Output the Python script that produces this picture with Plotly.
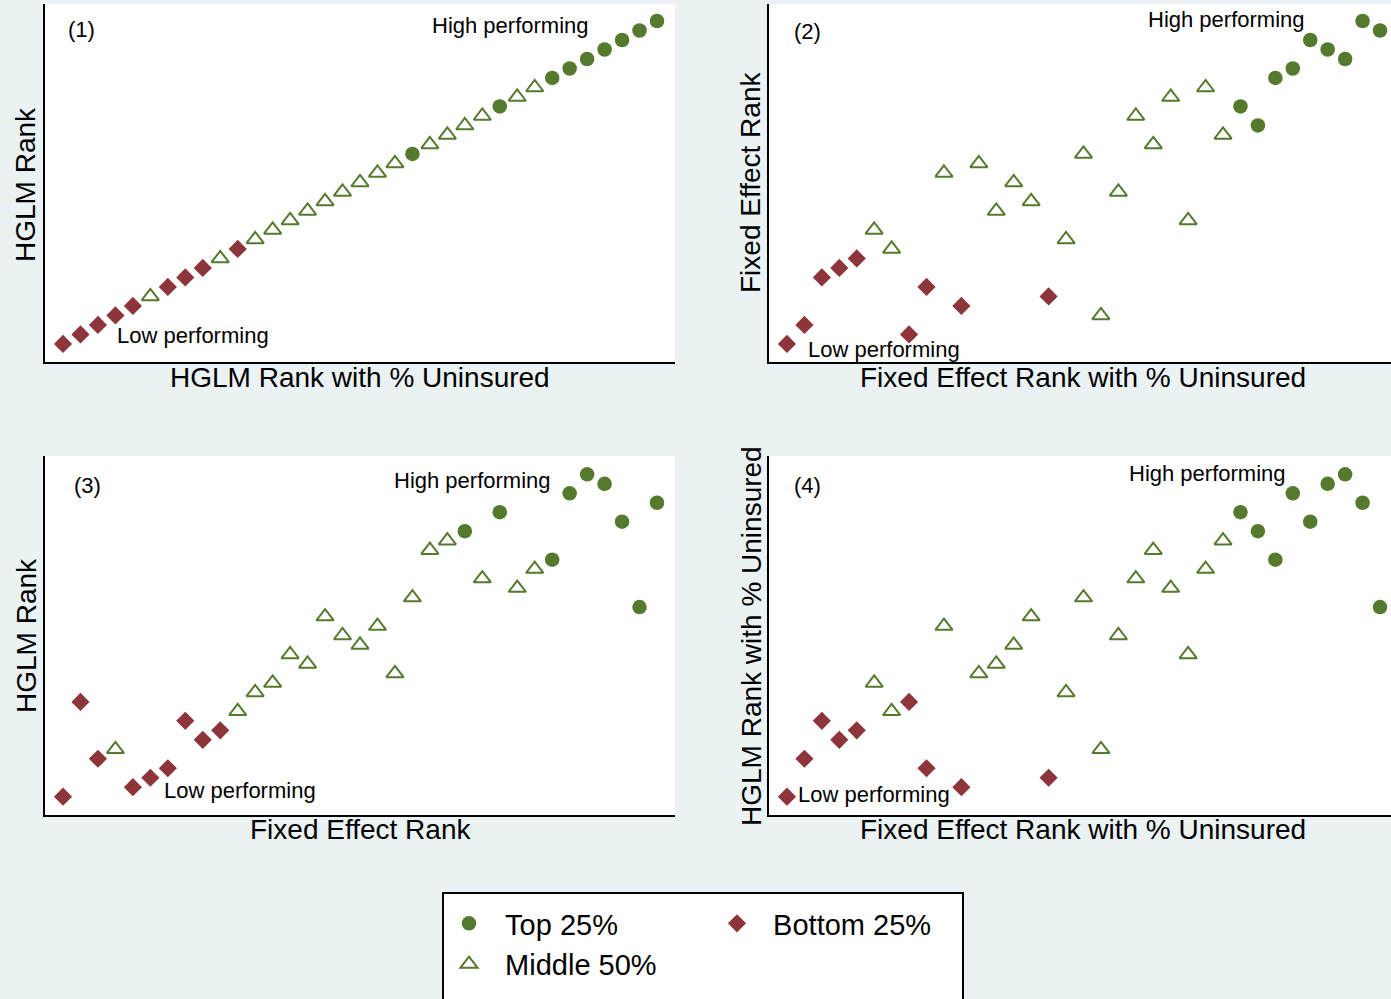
import plotly.graph_objects as go

W, H = 1391, 999

# ---------------- data ----------------
ranks = list(range(1, 36))  # x-axis rank positions (1..35)

# (1) x: HGLM Rank with % Uninsured, y: HGLM Rank
p1_y = [1, 2, 3, 4, 5, 6, 7, 8, 9, 10, 11, 12, 13, 14, 15, 16, 17, 18,
        19, 20, 21, 22, 23, 24, 25, 26, 27, 28, 29, 30, 31, 32, 33, 34, 35]
p1_grp = "BBBBBMBBBMBMMMMMMMMMTMMMMTMMTTTTTTT"

# (2) x: Fixed Effect Rank with % Uninsured, y: Fixed Effect Rank
p2_y = [1, 3, 8, 9, 10, 13, 11, 2, 7, 19, 5, 20, 15, 18, 16, 6, 12, 21,
        4, 17, 25, 22, 27, 14, 28, 23, 26, 24, 29, 30, 33, 32, 31, 35, 34]
p2_grp = "BBBBBMMBBMBMMMMBMMMMMMMMMMTTTTTTTTT"

# (3) x: Fixed Effect Rank, y: HGLM Rank
p3_y = [1, 11, 5, 6, 2, 3, 4, 9, 7, 8, 10, 12, 13, 16, 15, 20, 18, 17,
        19, 14, 22, 27, 28, 29, 24, 31, 23, 25, 26, 33, 35, 34, 30, 21, 32]
p3_grp = "BBBMBBBBBBMMMMMMMMMMMMMTMTMMTTTTTTT"

# (4) x: Fixed Effect Rank with % Uninsured, y: HGLM Rank with % Uninsured
p4_y = [1, 5, 9, 7, 8, 13, 10, 11, 4, 19, 2, 14, 15, 17, 20, 3, 12, 22,
        6, 18, 24, 27, 23, 16, 25, 28, 31, 29, 26, 33, 30, 34, 35, 32, 21]
p4_grp = p2_grp

panels = [
    ("1", p1_y, p1_grp, "HGLM Rank with % Uninsured", "HGLM Rank"),
    ("2", p2_y, p2_grp, "Fixed Effect Rank with % Uninsured", "Fixed Effect Rank"),
    ("3", p3_y, p3_grp, "Fixed Effect Rank", "HGLM Rank"),
    ("4", p4_y, p4_grp, "Fixed Effect Rank with % Uninsured", "HGLM Rank with % Uninsured"),
]

groups = ["T", "M", "B"]
group_names = {"T": "Top 25%", "M": "Middle 50%", "B": "Bottom 25%"}

# ---------------- styling ----------------
GREEN = "#557A2E"
MAROON = "#8E343B"
BG = "#EAF2F3"
FONT = "Liberation Sans, Arial, Helvetica, sans-serif"
NB = "\u00a0\u00a0"  # spacing between legend key and label

marker_style = {
    "T": dict(symbol="circle", size=14.5, color=GREEN),
    "M": dict(symbol="triangle-up-open", size=15, color=GREEN, line=dict(width=2, color=GREEN)),
    "B": dict(symbol="diamond", size=14, color=MAROON),
}
legend_of = {"T": "legend", "M": "legend", "B": "legend2"}

def px(x):
    return x / W

def py(y):
    return 1 - y / H

# panel boxes in pixels: (left, top, right, bottom)
boxes = {
    "1": (45, 4, 675, 362),
    "2": (769, 4, 1391, 362),
    "3": (45, 456, 675, 815),
    "4": (769, 456, 1391, 815),
}
xranges = {"1": [-0.03, 36.03], "2": [-0.03, 35.63], "3": [-0.03, 36.03], "4": [-0.03, 35.63]}
yranges = {"1": [-0.9, 36.79], "2": [-0.9, 36.79], "3": [-0.93, 36.93], "4": [-0.93, 36.93]}

fig = go.Figure()

for pid, yvals, grp, xt, yt in panels:
    xa = "x" if pid == "1" else "x" + pid
    ya = "y" if pid == "1" else "y" + pid
    for g in groups:
        xs = [r for r, gg in zip(ranks, grp) if gg == g]
        ys = [v for v, gg in zip(yvals, grp) if gg == g]
        fig.add_trace(go.Scatter(
            x=xs, y=ys, mode="markers", xaxis=xa, yaxis=ya,
            name=NB + group_names[g], marker=marker_style[g],
            showlegend=(pid == "1"), legend=legend_of[g],
            hoverinfo="skip", cliponaxis=False,
        ))

layout = dict(
    width=W, height=H,
    margin=dict(l=0, r=0, t=0, b=0),
    paper_bgcolor=BG, plot_bgcolor="white",
    font=dict(family=FONT, color="black"),
    showlegend=True,
)

axis_common = dict(showgrid=False, zeroline=False, showticklabels=False, ticks="",
                   showline=True, linecolor="black", linewidth=1.5, fixedrange=True)

annotations = []
for pid, yvals, grp, xt, yt in panels:
    l, t, r, b = boxes[pid]
    xkey = "xaxis" if pid == "1" else "xaxis" + pid
    ykey = "yaxis" if pid == "1" else "yaxis" + pid
    xa = "x" if pid == "1" else "x" + pid
    ya = "y" if pid == "1" else "y" + pid
    layout[xkey] = dict(axis_common, domain=[px(l), px(r)], range=xranges[pid], anchor=ya)
    layout[ykey] = dict(axis_common, domain=[py(b), py(t)], range=yranges[pid], anchor=xa)

# axis titles (centred on the full plot region, as in the original)
title_pos = {
    "1": ((360, 377), (26, 185)),
    "2": ((1083, 377), (751, 183)),
    "3": ((360, 829), (26, 636)),
    "4": ((1083, 829), (751, 636)),
}
for pid, yvals, grp, xt, yt in panels:
    (xx, xy), (yx, yy) = title_pos[pid]
    annotations.append(dict(text=xt, x=px(xx), y=py(xy), xref="paper", yref="paper",
                            xanchor="center", yanchor="middle", showarrow=False,
                            font=dict(size=28, family=FONT)))
    annotations.append(dict(text=yt, x=px(yx), y=py(yy), xref="paper", yref="paper",
                            xanchor="center", yanchor="middle", showarrow=False, textangle=-90,
                            font=dict(size=28, family=FONT)))

# in-panel labels: (text, left x, centre y)
labels = [
    ("(1)", 66, 30), ("High performing", 430, 26), ("Low performing", 115, 336),
    ("(2)", 792, 32), ("High performing", 1146, 20), ("Low performing", 806, 349),
    ("(3)", 72, 485), ("High performing", 392, 481), ("Low performing", 162, 790),
    ("(4)", 792, 485), ("High performing", 1127, 473), ("Low performing", 796, 794),
]
for txt, lx, cy in labels:
    annotations.append(dict(text=txt, x=px(lx), y=py(cy), xref="paper", yref="paper",
                            xanchor="left", yanchor="middle", showarrow=False,
                            font=dict(size=22, family=FONT)))

layout["annotations"] = annotations

# legend box
layout["shapes"] = [dict(type="rect", xref="paper", yref="paper",
                         x0=px(443), x1=px(963), y0=py(1003), y1=py(893),
                         line=dict(color="black", width=2), fillcolor="white", layer="below")]

layout["legend"] = dict(x=px(449), y=py(898), xanchor="left", yanchor="top",
                        orientation="v", bgcolor="rgba(0,0,0,0)", borderwidth=0,
                        font=dict(size=29, family=FONT), itemsizing="trace",
                        tracegroupgap=0, itemclick=False, itemdoubleclick=False)
layout["legend2"] = dict(x=px(717), y=py(898), xanchor="left", yanchor="top",
                         orientation="v", bgcolor="rgba(0,0,0,0)", borderwidth=0,
                         font=dict(size=29, family=FONT), itemsizing="trace",
                         itemclick=False, itemdoubleclick=False)

fig.update_layout(**layout)
fig.write_html("out.html", config={"displayModeBar": False})
